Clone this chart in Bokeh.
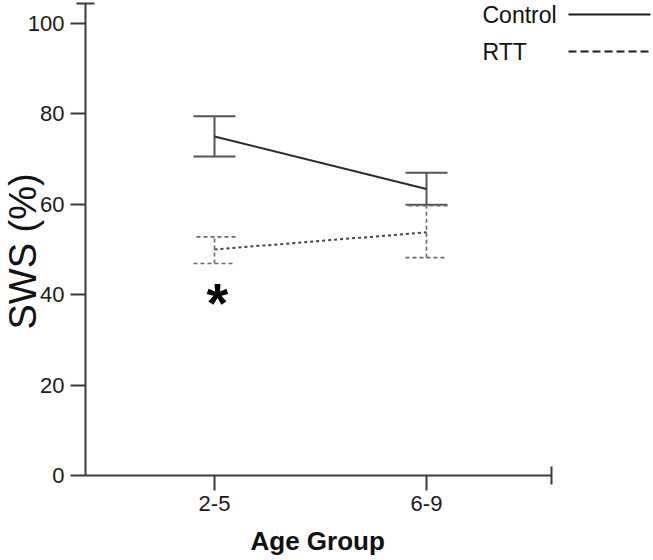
from bokeh.plotting import figure
from bokeh.models import (Range1d, FixedTicker, Whisker, TeeHead, ColumnDataSource,
                          Label, Arrow, Title)
from bokeh.core.properties import value
from bokeh.embed import file_html
from bokeh.resources import INLINE

# ---- data ----
categories = ["2-5", "6-9"]
control_mean = [75.0, 63.4]
control_upper = [79.5, 67.0]
control_lower = [70.6, 59.9]
rtt_mean = [50.0, 53.8]
rtt_upper = [52.8, 59.7]
rtt_lower = [46.9, 48.2]
y_ticks = [0, 20, 40, 60, 80, 100]
series_names = ["Control", "RTT"]
sig_category = "2-5"
sig_y = 38.2

FONT = "Liberation Sans"
x_pos = [i + 1 for i in range(len(categories))]
x_start, x_end = 0.3915, 3.0708      # frame extent
x_axis_end = 2.5896                   # visible axis end
y_start, y_end = 0, 105.09
y_axis_end = 104.4

p = figure(width=653, height=560, output_backend="svg", toolbar_location=None,
           x_range=Range1d(x_start, x_end), y_range=Range1d(y_start, y_end),
           min_border_left=85, min_border_right=0, min_border_top=0, min_border_bottom=85)
p.xgrid.visible = False
p.ygrid.visible = False
p.outline_line_color = None
p.background_fill_color = "white"
p.border_fill_color = "white"

axis_color = "#3a3a3a"
for ax in (p.xaxis[0], p.yaxis[0]):
    ax.axis_line_color = axis_color
    ax.axis_line_width = 2
    ax.major_tick_line_color = axis_color
    ax.major_tick_line_width = 2
    ax.minor_tick_line_color = axis_color
    ax.minor_tick_line_width = 2
    ax.major_tick_in = 0
    ax.major_tick_out = 15
    ax.minor_tick_in = 9
    ax.minor_tick_out = 9
    ax.major_label_text_font = FONT
    ax.major_label_text_font_size = "22px"
    ax.major_label_text_color = "#1a1a1a"

p.xaxis.bounds = (x_start, x_axis_end)
p.xaxis.ticker = FixedTicker(ticks=x_pos, minor_ticks=[x_axis_end])
p.xaxis.major_label_overrides = {x: c for x, c in zip(x_pos, categories)}
p.xaxis.major_label_standoff = 5
# blank spacer label to push the axis title down
p.xaxis.axis_label = " "
p.xaxis.axis_label_text_font_size = "1px"
p.xaxis.axis_label_standoff = 8

p.yaxis.bounds = (y_start, y_axis_end)
p.yaxis.ticker = FixedTicker(ticks=y_ticks, minor_ticks=[y_axis_end])
p.yaxis.major_label_standoff = 6

# axis titles, aligned to the visible axes
p.add_layout(Title(text="Age Group", align="left", offset=165, vertical_align="top",
                   standoff=0, text_font=FONT, text_font_size="26px",
                   text_font_style="bold", text_color="#111111"), "below")
p.add_layout(Title(text="SWS (%)", align="left", offset=146, vertical_align="middle",
                   standoff=-41, text_font=FONT, text_font_size="38px",
                   text_font_style="normal", text_color="#111111"), "left")

# ---- series ----
ctrl_src = ColumnDataSource(dict(x=x_pos, m=control_mean, up=control_upper, lo=control_lower))
rtt_src = ColumnDataSource(dict(x=x_pos, m=rtt_mean, up=rtt_upper, lo=rtt_lower))

err_ctrl_color = "#555555"
err_rtt_color = "#6a6a6a"

p.add_layout(Whisker(source=ctrl_src, base="x", upper="up", lower="lo", dimension="height",
                     line_color=err_ctrl_color, line_width=2,
                     upper_head=TeeHead(size=42, line_color=err_ctrl_color, line_width=2),
                     lower_head=TeeHead(size=42, line_color=err_ctrl_color, line_width=2)))
p.add_layout(Whisker(source=rtt_src, base="x", upper="up", lower="lo", dimension="height",
                     line_color=err_rtt_color, line_width=1.6, line_dash="4 3",
                     upper_head=TeeHead(size=42, line_color=err_rtt_color, line_width=1.6, line_dash="4 3"),
                     lower_head=TeeHead(size=42, line_color=err_rtt_color, line_width=1.6, line_dash="4 3")))

p.line("x", "m", source=ctrl_src, line_color="#2b2b2b", line_width=2)
p.line("x", "m", source=rtt_src, line_color="#444444", line_width=2, line_dash="3 3")

# significance marker
sig_x = x_pos[categories.index(sig_category)]
p.text(x=[sig_x], y=[sig_y], text=["*"], text_font=value(FONT), text_font_style="bold",
       text_font_size="56px", text_align="center", text_baseline="middle", text_color="black",
       x_offset=3)

# ---- legend (text left, line right), in screen pixels from frame bottom-left ----
legend_rows = [461, 424]
legend_dashes = ["solid", "8 4"]
for name, ly, dash in zip(series_names, legend_rows, legend_dashes):
    p.add_layout(Label(x=397, y=ly, x_units="screen", y_units="screen", text=name,
                       text_font=FONT, text_font_size="23px", text_baseline="middle",
                       text_align="left", text_color="#111111"))
    p.add_layout(Arrow(start=None, end=None, x_start=483, y_start=ly, x_end=565, y_end=ly,
                       start_units="screen", end_units="screen",
                       line_color="#1a1a1a", line_width=2, line_dash=dash))

open("out.html", "w").write(file_html(p, INLINE))
